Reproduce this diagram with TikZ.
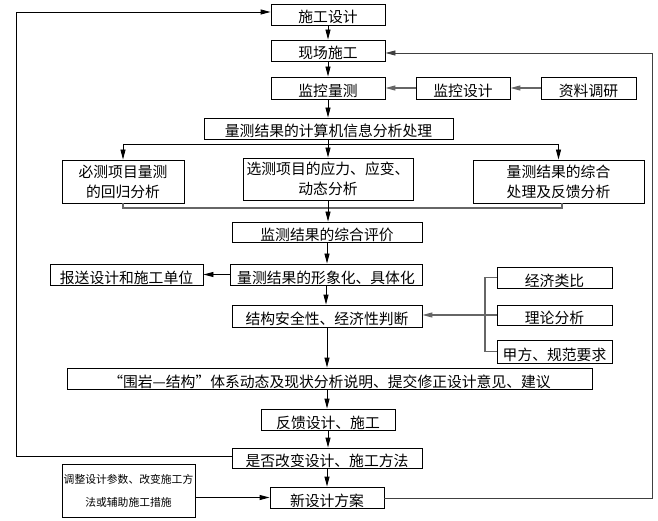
\documentclass[tikz,border=0pt]{standalone}
\usepackage{fontspec}
\setmainfont{Noto Sans CJK SC}
\usetikzlibrary{arrows.meta}
\begin{document}
\begin{tikzpicture}[x=1pt,y=-1pt,
  box/.style={draw, line width=0.9pt, inner sep=0pt, font=\fontsize{14.8}{20}\selectfont},
  low/.style={text height=17pt, text depth=0pt},
  arr/.style={-{Triangle[length=10pt,width=5pt]}, line width=0.9pt},
  ln/.style={line width=0.9pt},
  gl/.style={line width=1.2pt, draw=black!60},
  garr/.style={gl, -{Triangle[length=10pt,width=5pt]}}]
\useasboundingbox (0,0) rectangle (658,521);

\node[box,low,minimum width=114,minimum height=21] (sg) at (328,14.5) {施工设计};
\node[box,low,minimum width=114,minimum height=21] (xc) at (328,50.5) {现场施工};
\node[box,low,minimum width=114,minimum height=22] (jl) at (328,88) {监控量测};
\node[box,low,minimum width=94,minimum height=22] (jsj) at (463,88) {监控设计};
\node[box,low,minimum width=95,minimum height=22] (zl) at (588.5,88) {资料调研};
\node[box,low,minimum width=249,minimum height=21] (js) at (328.5,128.5) {量测结果的计算机信息分析处理};
\node[box,align=center,minimum width=122,minimum height=43] (bc) at (123,181.5) {必测项目量测\\的回归分析};
\node[box,align=center,minimum width=170,minimum height=42] (xcx) at (328,179) {选测项目的应力、应变、\\动态分析};
\node[box,align=center,minimum width=171,minimum height=43] (zh) at (558.5,181.5) {量测结果的综合\\处理及反馈分析};
\node[box,low,minimum width=190,minimum height=20] (pj) at (327,232) {监测结果的综合评价};
\node[box,low,minimum width=192,minimum height=21] (xx) at (326,274.5) {量测结果的形象化、具体化};
\node[box,low,minimum width=153,minimum height=21] (bs) at (126.5,274.5) {报送设计和施工单位};
\node[box,low,minimum width=190,minimum height=22] (aq) at (327,316) {结构安全性、经济性判断};
\node[box,low,minimum width=115,minimum height=21] (jj) at (554.5,277.5) {经济类比};
\node[box,low,minimum width=115,minimum height=20] (ll) at (554.5,315) {理论分析};
\node[box,low,minimum width=115,minimum height=23] (jf) at (554.5,351.5) {甲方、规范要求};
\node[box,low,minimum width=525,minimum height=21] (wy) at (329.5,378.5) {“围岩—结构”体系动态及现状分析说明、提交修正设计意见、建议};
\node[box,low,minimum width=134,minimum height=21] (fk) at (328,419.5) {反馈设计、施工};
\node[box,low,minimum width=190,minimum height=20] (sf) at (327,458) {是否改变设计、施工方法};
\node[box,low,minimum width=114,minimum height=21] (xs) at (327,497.5) {新设计方案};
\node[box,align=center,minimum width=133,minimum height=53,font=\fontsize{10.8}{23}\selectfont] (tz) at (128.5,490.5) {调整设计参数、改变施工方\\法或辅助施工措施};

% main column
\draw[arr] (sg.south) -- (sg.south |- xc.north);
\draw[arr] (xc.south) -- (xc.south |- jl.north);
\draw[arr] (jl.south) -- (jl.south |- js.north);
\draw[garr] (zl.west) -- (jsj.east);
\draw[garr] (jsj.west) -- (jl.east);

% distribution
\coordinate (d) at (328,144);
\draw[ln] (js.south -| d) -- (d);
\draw[ln] (bc.north |- d) -- (zh.north |- d);
\draw[arr] (bc.north |- d) -- (bc.north);
\draw[arr] (d) -- (d |- xcx.north);
\draw[arr] (zh.north |- d) -- (zh.north);

% collection
\coordinate (c) at (328,208);
\coordinate (cr) at (562,208);
\draw[gl] (bc.south) -- (bc.south |- c) -- (cr) -- (cr |- zh.south);
\draw[ln] (xcx.south -| c) -- (c);
\draw[arr] (c) -- (c |- pj.north);

\draw[arr] (pj.south) -- (pj.south |- xx.north);
\draw[arr] (xx.west) -- (bs.east);
\draw[arr] (xx.south) -- (xx.south |- aq.north);
\draw[arr] (aq.south) -- (aq.south |- wy.north);
\draw[arr] (aq.south |- wy.south) -- (aq.south |- fk.north);
\draw[arr] (fk.south) -- (fk.south |- sf.north);
\draw[arr] (sf.south) -- (sf.south |- xs.north);

% bracket
\coordinate (b) at (485,316);
\draw[gl] (jj.west) -- (jj.west -| b) -- (jf.west -| b) -- (jf.west);
\draw[garr] (ll.west) -- (aq.east |- ll.west);

% loops
\coordinate (lt) at (16,12);
\coordinate (lb) at (16,456);
\draw[arr] (sf.west |- lb) -- (lb) -- (lt) -- (sg.west |- lt);
\coordinate (rt) at (652,53);
\coordinate (rb) at (652,498);
\draw[arr, draw=black!75] (xs.east |- rb) -- (rb) -- (rt) -- (xc.east |- rt);
\draw[arr] (tz.east |- xs.west) -- (xs.west);
\end{tikzpicture}
\end{document}
